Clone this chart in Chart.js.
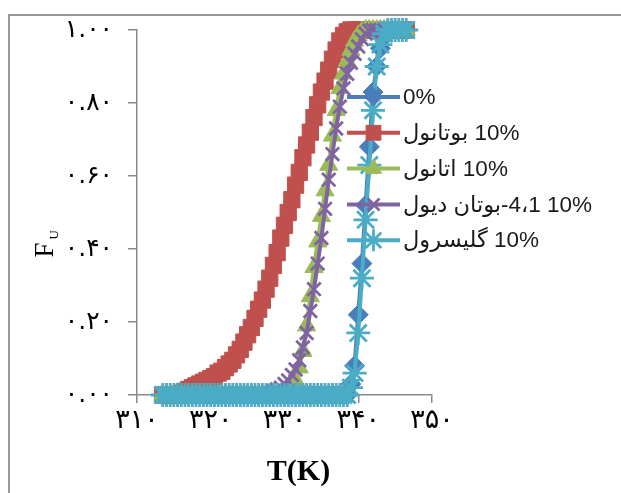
<!DOCTYPE html>
<html>
<head>
<meta charset="utf-8">
<script src="https://cdn.jsdelivr.net/npm/chart.js@4.4.1/dist/chart.umd.min.js"></script>
<style>
html,body{margin:0;padding:0;background:#fff;}
#wrap{position:relative;width:621px;height:493px;overflow:hidden;background:#fff;}
#frame{position:absolute;left:8px;top:14px;width:800px;height:700px;border-top:2px solid #9a9a9a;border-left:2px solid #9a9a9a;}
canvas{position:absolute;left:0;top:0;}
</style>
</head>
<body>
<div id="wrap"><div id="frame"></div><canvas id="c" width="621" height="493"></canvas></div>
<script>
// Temperature (K)
const temperatures = [313.5,314,314.5,315,315.5,316,316.5,317,317.5,318,318.5,319,319.5,320,320.5,321,321.5,322,322.5,323,323.5,324,324.5,325,325.5,326,326.5,327,327.5,328,328.5,329,329.5,330,330.5,331,331.5,332,332.5,333,333.5,334,334.5,335,335.5,336,336.5,337,337.5,338,338.5,339,339.5,340,340.5,341,341.5,342,342.5,343,343.5,344,344.5,345,345.5,346,346.5];

const seriesLabels = ['0%', 'بوتانول\u200E 10%', 'اتانول\u200E 10%', 'بوتان دیول\u200E-4،1 10%', 'گلیسرول\u200E 10%'];

// F_U for each series
const fu0 = [0,0,0,0,0,0,0,0,0,0,0,0,0,0,0,0,0,0,0,0,0,0,0,0,0,0,0,0,0,0,0,0,0,0,0,0,0,0,0,0,0,0,0,0,0,0,0,0,0,0,0,
  0.03,0.08,0.22,0.36,0.52,0.68,0.83,0.90,0.95,0.98,
  1,1,1,1,1,1];
const fuButanol = [0,0,0,0,0,
  0.005,0.01,0.015,0.02,0.025,0.03,0.035,0.04,0.045,0.05,0.06,0.065,0.075,0.085,0.095,0.11,0.125,0.145,0.165,0.185,0.21,0.235,0.26,0.29,0.32,0.355,0.39,0.43,0.465,0.5,0.535,0.575,0.61,0.65,0.685,0.72,0.76,0.795,0.83,0.86,0.89,0.92,0.945,0.97,0.985,0.995,
  1,1,1,1,1,1,1,1,1,1,1,1,1,1,1,1];
const fuEthanol = [0,0,0,0,0,0,0,0,0,0,0,0,0,0,0,0,0,0,0,0,0,0,0,0,0,0,0,0,0,0,0,0,0,
  0.005,0.01,0.02,0.04,0.075,0.12,0.19,0.27,0.35,0.42,0.49,0.56,0.63,0.71,0.78,0.84,0.88,0.915,0.945,0.97,0.985,0.995,
  1,1,1,1,1,1,1,1,1,1,1,1];
const fuButanediol = [0,0,0,0,0,0,0,0,0,0,0,0,0,0,0,0,0,0,0,0,0,0,0,0,0,0,0,0,0,
  0.005,0.01,0.015,0.02,0.03,0.04,0.055,0.07,0.095,0.13,0.17,0.23,0.29,0.36,0.43,0.51,0.59,0.66,0.73,0.79,0.84,0.88,0.91,0.935,0.955,0.975,0.99,0.998,
  1,1,1,1,1,1,1,1,1,1];
const fuGlycerol = [0,0,0,0,0,0,0,0,0,0,0,0,0,0,0,0,0,0,0,0,0,0,0,0,0,0,0,0,0,0,0,0,0,0,0,0,0,0,0,0,0,0,0,0,0,0,0,0,0,0,0,
  0.02,0.06,0.17,0.32,0.48,0.63,0.78,0.90,0.96,0.99,
  1,1,1,1,1,1];

const xTickLabels = ['۳۱۰','۳۲۰','۳۳۰','۳۴۰','۳۵۰'];
const yTickLabels = ['۰.۰۰','۰.۲۰','۰.۴۰','۰.۶۰','۰.۸۰','۱.۰۰'];

const colors = ['#4A7EBB', '#C0504D', '#9BBB59', '#8064A2', '#4BACC6'];
const styles = ['rectRot', 'rect', 'triangle', 'crossRot', 'star'];
const radii = [10, 11.5, 10.5, 9.5, 12];
const seriesValues = [fu0, fuButanol, fuEthanol, fuButanediol, fuGlycerol];

const datasets = seriesValues.map((vals, i) => ({
  label: seriesLabels[i],
  data: vals.map((v, k) => ({x: temperatures[k], y: v})),
  borderColor: colors[i],
  backgroundColor: colors[i],
  pointBackgroundColor: colors[i],
  pointBorderColor: colors[i],
  pointStyle: styles[i],
  pointRadius: radii[i],
  pointBorderWidth: (styles[i] === 'crossRot' || styles[i] === 'star') ? 2.8 : 1,
  borderWidth: 4,
  tension: 0,
  clip: false,
  order: 5 - i
}));

const legendPlugin = {
  id: 'insideLegend',
  afterDatasetsDraw(chart) {
    const ctx = chart.ctx;
    const a = chart.chartArea;
    const x1 = a.left + 210, x2 = a.left + 263, tx = a.left + 266;
    const y0 = a.top + 67, dy = 35.8;
    chart.data.datasets.forEach((ds, i) => {
      const y = y0 + i * dy;
      ctx.save();
      ctx.strokeStyle = ds.borderColor;
      ctx.lineWidth = ds.borderWidth;
      ctx.beginPath(); ctx.moveTo(x1, y); ctx.lineTo(x2, y); ctx.stroke();
      ctx.fillStyle = ds.pointBackgroundColor;
      ctx.strokeStyle = ds.pointBorderColor;
      ctx.lineWidth = ds.pointBorderWidth;
      Chart.helpers.drawPoint(ctx, {pointStyle: ds.pointStyle, radius: ds.pointRadius - 1, rotation: 0, borderWidth: ds.pointBorderWidth}, (x1 + x2) / 2, y);
      ctx.restore();
      ctx.save();
      ctx.font = '22.5px "Liberation Sans", "DejaVu Sans", sans-serif';
      ctx.fillStyle = '#1a1a1a';
      ctx.textAlign = 'left';
      ctx.textBaseline = 'middle';
      ctx.direction = 'ltr';
      ctx.fillText(ds.label, tx, y + 1);
      ctx.restore();
    });
  }
};

const titlePlugin = {
  id: 'axisTitles',
  afterDraw(chart) {
    const ctx = chart.ctx;
    const a = chart.chartArea;
    ctx.save();
    ctx.font = 'bold 30px "Liberation Serif", serif';
    ctx.fillStyle = '#000';
    ctx.textAlign = 'center';
    ctx.textBaseline = 'middle';
    ctx.fillText('T(K)', (a.left + a.right) / 2 + 14, a.bottom + 77);
    ctx.restore();
    ctx.save();
    ctx.translate(a.left - 84, (a.top + a.bottom) / 2 + 45);
    ctx.rotate(-Math.PI / 2);
    ctx.fillStyle = '#000';
    ctx.textAlign = 'left';
    ctx.textBaseline = 'alphabetic';
    ctx.font = '27px "Liberation Serif", serif';
    ctx.fillText('F', 0, 0);
    const w = ctx.measureText('F').width;
    ctx.font = '13px "Liberation Serif", serif';
    ctx.fillText('U', w + 3, 5);
    ctx.restore();
  }
};

const xTickFont = {family: 'DejaVu Sans', size: 27};
const yTickFont = {family: 'DejaVu Sans', size: 25};

new Chart(document.getElementById('c'), {
  type: 'line',
  data: {datasets},
  plugins: [legendPlugin, titlePlugin],
  options: {
    responsive: false,
    animation: false,
    devicePixelRatio: 1,
    layout: {padding: {left: 0, top: 30, right: 189, bottom: 0}},
    plugins: {legend: {display: false}, tooltip: {enabled: false}},
    scales: {
      x: {
        type: 'linear', min: 310, max: 350,
        afterFit(s) { s.height = 98; },
        afterBuildTicks(s) { s.ticks = [310,320,330,340,350].map(v => ({value: v})); },
        ticks: {
          callback: (v, idx) => xTickLabels[idx],
          font: xTickFont, color: '#000', padding: 2, maxRotation: 0, autoSkip: false
        },
        grid: {drawOnChartArea: false, drawTicks: true, tickLength: 8, color: '#8a8a8a', lineWidth: 1.5},
        border: {color: '#8a8a8a', width: 1.5}
      },
      y: {
        min: 0, max: 1,
        afterFit(s) { s.width = 137; },
        afterBuildTicks(s) { s.ticks = [0,0.2,0.4,0.6,0.8,1].map(v => ({value: v})); },
        ticks: {
          callback: (v, idx) => yTickLabels[idx],
          font: yTickFont, color: '#000', padding: 15, autoSkip: false
        },
        grid: {drawOnChartArea: false, drawTicks: true, tickLength: 9, color: '#8a8a8a', lineWidth: 1.5},
        border: {color: '#8a8a8a', width: 1.5}
      }
    }
  }
});
</script>
</body>
</html>
